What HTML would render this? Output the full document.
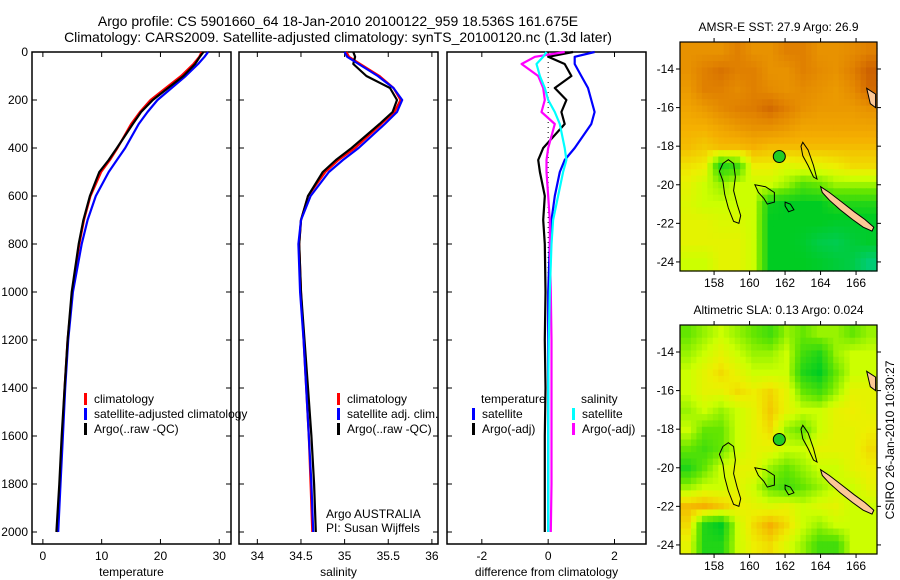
<!DOCTYPE html>
<html><head><meta charset="utf-8">
<style>
html,body{margin:0;padding:0;background:#fff;}
svg{display:block;font-family:"Liberation Sans",sans-serif;}
text{fill:#000;}
</style></head>
<body>
<svg id="fig" width="900" height="580" viewBox="0 0 900 580" xmlns="http://www.w3.org/2000/svg">
<text x="338" y="26" font-size="14" text-anchor="middle">Argo profile: CS 5901660_64 18-Jan-2010 20100122_959 18.536S 161.675E</text>
<text x="338" y="42" font-size="14" text-anchor="middle">Climatology: CARS2009. Satellite-adjusted climatology: synTS_20100120.nc (1.3d later)</text>
<g id="layer"></g>
</svg>
<script>
// ---------- data ----------
const depths      = [0,20,50,100,150,200,250,300,400,450,500,600,700,800,1000,1200,1400,1600,1800,2000];
const tempClim    = [27.0,26.6,25.6,23.5,20.9,18.3,16.5,15.0,12.7,11.4,9.9,8.1,7.0,6.2,5.0,4.2,3.7,3.3,2.9,2.4];
const tempSat     = [28.1,27.5,26.4,24.3,21.9,19.5,17.8,16.3,14.0,12.6,11.2,9.0,7.6,6.6,5.1,4.3,3.8,3.4,3.0,2.6];
const tempArgo    = [27.3,26.7,25.9,23.9,21.3,18.7,16.7,15.3,12.6,11.2,9.6,8.0,6.9,6.1,4.9,4.2,3.7,3.2,2.8,2.3];
const salClim     = [35.02,35.05,35.18,35.40,35.56,35.64,35.57,35.42,35.12,34.93,34.78,34.58,34.50,34.48,34.50,34.53,34.56,34.59,34.61,34.63];
const salSat      = [35.00,35.03,35.16,35.38,35.56,35.66,35.60,35.46,35.16,34.98,34.82,34.61,34.50,34.47,34.49,34.53,34.56,34.59,34.62,34.64];
const salArgo     = [35.10,35.12,35.10,35.25,35.52,35.60,35.55,35.40,35.08,34.90,34.75,34.58,34.50,34.48,34.50,34.54,34.58,34.62,34.65,34.67];
const dTempSat    = [1.4,0.8,0.8,1.0,1.2,1.3,1.4,1.3,0.8,0.5,0.35,0.2,0.1,0.05,0.0,0.0,0.0,0.0,0.0,0.0];
const dTempArgo   = [0.75,0.0,0.5,0.7,0.2,0.55,0.4,0.5,-0.15,-0.3,-0.25,-0.1,-0.15,-0.1,-0.08,-0.1,-0.08,-0.1,-0.1,-0.1];
const dSalArgo    = [0.5,-0.4,-0.8,-0.3,-0.15,-0.1,-0.2,0.2,0.0,-0.05,-0.05,0.0,0.05,0.05,0.08,0.1,0.1,0.1,0.1,0.08];
const dSalSat     = [-0.05,-0.15,-0.35,-0.25,-0.1,0.0,0.2,0.35,0.5,0.55,0.45,0.3,0.15,0.1,0.05,0.02,0.0,0.0,0.0,0.0];
const depthTicks  = [0,200,400,600,800,1000,1200,1400,1600,1800,2000];
const tempTicks   = [0,10,20,30];
const salTicks    = [34,34.5,35,35.5,36];
const diffTicks   = [-2,0,2];
const lonTicks    = [158,160,162,164,166];
const latTicks    = [-14,-16,-18,-20,-22,-24];
const sstGrid = [
[.8,.8,.8,.85,.8,.8,.85,.85,.8,.8,.82,.85],
[.8,.85,.88,.85,.85,.8,.8,.85,.82,.8,.85,.92],
[.78,.85,.85,.82,.85,.82,.8,.82,.8,.78,.82,.9],
[.75,.78,.82,.85,.86,.9,.85,.8,.78,.78,.78,.8],
[.72,.72,.75,.78,.8,.8,.78,.75,.75,.75,.75,.75],
[.7,.68,.7,.7,.72,.7,.7,.7,.7,.7,.7,.7],
[.64,.62,.35,.4,.62,.62,.58,.6,.6,.62,.65,.65],
[.6,.55,.5,.55,.55,.55,.5,.42,.45,.5,.5,.5],
[.58,.55,.55,.55,.55,.32,.3,.3,.3,.35,.35,.35],
[.6,.6,.58,.58,.55,.3,.3,.3,.3,.28,.28,.28],
[.6,.6,.6,.6,.55,.3,.3,.28,.22,.2,.25,.28],
[.55,.55,.6,.6,.55,.3,.3,.3,.28,.25,.22,.12]];
const slaGrid = [
[.45,.5,.55,.5,.45,.4,.5,.45,.5,.5,.45,.5],
[.5,.55,.6,.55,.5,.5,.55,.4,.35,.5,.55,.55],
[.55,.6,.65,.6,.55,.55,.55,.35,.3,.45,.55,.55],
[.55,.6,.6,.65,.62,.66,.6,.45,.4,.5,.6,.6],
[.5,.55,.5,.55,.6,.68,.6,.55,.55,.6,.62,.6],
[.55,.45,.45,.55,.6,.65,.5,.45,.55,.6,.6,.62],
[.45,.4,.45,.55,.6,.6,.55,.55,.6,.6,.6,.65],
[.35,.45,.55,.6,.6,.5,.45,.5,.55,.55,.6,.62],
[.5,.55,.55,.6,.55,.45,.4,.45,.5,.55,.55,.6],
[.7,.72,.68,.62,.6,.58,.6,.55,.58,.6,.55,.55],
[.65,.35,.3,.55,.65,.72,.65,.55,.5,.55,.55,.55],
[.6,.35,.35,.55,.62,.65,.58,.5,.4,.4,.55,.55]];
const argoLon = 161.675, argoLat = -18.536;
const reefA = [[158.8,-18.7],[159.1,-18.9],[159.2,-19.6],[159.1,-20.3],[159.3,-21.0],[159.5,-21.6],[159.4,-22.0],[159.1,-21.9],[158.8,-21.2],[158.6,-20.5],[158.5,-19.8],[158.3,-19.3],[158.5,-18.9],[158.8,-18.7]];
const reefB = [[160.3,-20.0],[160.9,-20.1],[161.4,-20.4],[161.4,-20.9],[161.0,-21.0],[160.8,-20.7],[160.5,-20.4],[160.3,-20.0]];
const reefC = [[163.0,-17.8],[163.3,-18.2],[163.6,-19.0],[163.8,-19.7],[163.6,-19.6],[163.3,-19.0],[163.0,-18.5],[162.9,-18.0],[163.0,-17.8]];
const reefD = [[162.0,-20.9],[162.3,-21.0],[162.5,-21.3],[162.2,-21.4],[162.0,-21.1],[162.0,-20.9]];
const newCal = [[164.0,-20.1],[164.5,-20.4],[165.2,-20.9],[165.9,-21.4],[166.5,-21.8],[167.0,-22.2],[166.9,-22.4],[166.4,-22.2],[165.8,-21.8],[165.1,-21.3],[164.5,-20.8],[164.1,-20.4],[164.0,-20.1]];
const vanuatuTip = [[166.6,-15.0],[167.1,-15.3],[167.1,-16.0],[166.8,-15.8],[166.6,-15.0]];

// ---------- helpers ----------
const NS="http://www.w3.org/2000/svg";
const layer=document.getElementById('layer');
function mk(tag,attrs,parent){const e=document.createElementNS(NS,tag);for(const k in attrs)e.setAttribute(k,attrs[k]);(parent||layer).appendChild(e);return e;}
function txt(s,x,y,size,anchor,parent){const t=mk('text',{x:x,y:y,'font-size':size,'text-anchor':anchor||'start'},parent);t.textContent=s;return t;}

const yTop=52, yBot=544;
function yDepth(d){return yTop + d*0.24;}

function panel(name,x0,x1,xmin,xmax,ticks,label,showDepth){
  const g=mk('g',{});
  
  
  const fx=v=>x0+(v-xmin)/(xmax-xmin)*(x1-x0);
  const fr=mk('rect',{x:x0,y:yTop,width:x1-x0,height:yBot-yTop,fill:'none',stroke:'#000','stroke-width':1.5},g);
  
  
  depthTicks.forEach(d=>{const y=yDepth(d);
    mk('line',{x1:x0,x2:x0+5,y1:y,y2:y,stroke:'#000'},g);
    mk('line',{x1:x1,x2:x1-5,y1:y,y2:y,stroke:'#000'},g);
    if(showDepth){const t=txt(String(d),x0-4,y+4,12,'end',g);
      
      }
  });
  ticks.forEach(v=>{const x=fx(v);
    mk('line',{x1:x,x2:x,y1:yBot,y2:yBot-5,stroke:'#000'},g);
    mk('line',{x1:x,x2:x,y1:yTop,y2:yTop+5,stroke:'#000'},g);
    const t=txt(String(v),x,560,12,'middle',g);
    
    
  });
  const xl=txt(label,(x0+x1)/2,576,12,'middle',g);
  
  
  return {g,fx};
}
function series(p,vals,color,name){
  const pts=vals.map((v,i)=>p.fx(v).toFixed(1)+','+yDepth(depths[i]).toFixed(1)).join(' ');
  const l=mk('polyline',{points:pts,fill:'none',stroke:color,'stroke-width':2.2,'stroke-linejoin':'round'},p.g);
  
  
}
function legend(g,x,y,color,label,name){
  const b=mk('rect',{x:x,y:y-10,width:3,height:12,fill:color},g);
  
  
  const t=txt(label,x+10,y,12,'start',g);
  
  
}

// Panel 1
const p1=panel('temperature-panel',32,231,-1.85,32.0,tempTicks,'temperature',true);
series(p1,tempClim,'#f00','temp-climatology-line');
series(p1,tempSat,'#00f','temp-satellite-line');
series(p1,tempArgo,'#000','temp-argo-line');
legend(p1.g,84,403,'#f00','climatology','legend-climatology');
legend(p1.g,84,418,'#00f','satellite-adjusted climatology','legend-satellite');
legend(p1.g,84,433,'#000','Argo(..raw -QC)','legend-argo');

// Panel 2
const p2=panel('salinity-panel',239,438,33.79,36.07,salTicks,'salinity',false);
series(p2,salClim,'#f00','sal-climatology-line');
series(p2,salArgo,'#000','sal-argo-line');
series(p2,salSat,'#00f','sal-satellite-line');
legend(p2.g,337,403,'#f00','climatology','legend-sal-climatology');
legend(p2.g,337,418,'#00f','satellite adj. clim.','legend-sal-satellite');
legend(p2.g,337,433,'#000','Argo(..raw -QC)','legend-sal-argo');
const a1=txt('Argo AUSTRALIA',326,518,12,'start',p2.g);


const a2=txt('PI: Susan Wijffels',326,532,12,'start',p2.g);



// Panel 3
const p3=panel('difference-panel',447,646,-3.05,2.95,diffTicks,'difference from climatology',false);
const zl=mk('line',{x1:p3.fx(0),x2:p3.fx(0),y1:yTop,y2:yDepth(2000),stroke:'#000','stroke-dasharray':'1,4'},p3.g);


series(p3,dTempSat,'#00f','diff-temp-satellite-line');
series(p3,dTempArgo,'#000','diff-temp-argo-line');
series(p3,dSalArgo,'#f0f','diff-sal-argo-line');
series(p3,dSalSat,'#0ff','diff-sal-satellite-line');
const lt=txt('temperature',481,403,12,'start',p3.g);


const ls=txt('salinity',581,403,12,'start',p3.g);


legend(p3.g,472,418,'#00f','satellite','legend-dtemp-satellite');
legend(p3.g,472,433,'#000','Argo(-adj)','legend-dtemp-argo');
legend(p3.g,572,418,'#0ff','satellite','legend-dsal-satellite');
legend(p3.g,572,433,'#f0f','Argo(-adj)','legend-dsal-argo');

// ---------- maps ----------
const cstops=[[0,[0,204,170]],[0.3,[0,204,34]],[0.45,[100,230,0]],[0.55,[204,255,0]],[0.62,[238,238,0]],[0.72,[245,176,0]],[0.85,[224,128,0]],[1,[184,64,0]]];
function cmap(v){for(let i=1;i<cstops.length;i++){if(v<=cstops[i][0]){const a=cstops[i-1],b=cstops[i];const t=(v-a[0])/(b[0]-a[0]);
  const c=a[1].map((q,k)=>Math.round(q+(b[1][k]-q)*t));return 'rgb('+c.join(',')+')';}}return 'rgb(184,64,0)';}
function sample(grid,fr,fc){ // bilinear sample for display smoothing
  const R=grid.length-1,C=grid[0].length-1;
  fr=Math.max(0,Math.min(R,fr));fc=Math.max(0,Math.min(C,fc));
  const r0=Math.floor(fr),c0=Math.floor(fc),r1=Math.min(R,r0+1),c1=Math.min(C,c0+1);
  const tr=fr-r0,tc=fc-c0;
  const a=grid[r0][c0]*(1-tc)+grid[r0][c1]*tc, b=grid[r1][c0]*(1-tc)+grid[r1][c1]*tc;
  return a*(1-tr)+b*tr;
}
const lonMin=156.08, lonMax=167.18, latMax=-12.6, latMin=-24.47;
function mapPanel(name,y0,grid,title){
  const x0=680,x1=877,y1=y0+229;
  const g=mk('g',{});
  
  
  const fx=lon=>x0+(lon-lonMin)/(lonMax-lonMin)*(x1-x0);
  const fy=lat=>y0+(latMax-lat)/(latMax-latMin)*(y1-y0);
  const rows=grid.length, cols=grid[0].length, S=3;
  const cw=(x1-x0)/(cols*S), ch=(y1-y0)/(rows*S);
  for(let r=0;r<rows*S;r++)for(let c=0;c<cols*S;c++){
    const v=sample(grid,(r+0.5)/S-0.5,(c+0.5)/S-0.5);
    const cell=mk('rect',{x:(x0+c*cw).toFixed(2),y:(y0+r*ch).toFixed(2),width:(cw+0.6).toFixed(2),height:(ch+0.6).toFixed(2),fill:cmap(v)},g);
    
    
  }
  const poly=(pts,fill,nm)=>{const p=mk('polygon',{points:pts.map(q=>fx(q[0]).toFixed(1)+','+fy(q[1]).toFixed(1)).join(' '),fill:fill,stroke:'#000','stroke-width':1},g);
    };
  poly(reefA,'none','chesterfield-reef-outline');
  poly(reefB,'none','bellona-reef-outline');
  poly(reefC,'none','entrecasteaux-reef-outline');
  poly(reefD,'none','small-reef-outline');
  poly(newCal,'#fcc896','new-caledonia-land');
  poly(vanuatuTip,'#fcc896','vanuatu-land');
  const dot=mk('circle',{cx:fx(argoLon),cy:fy(argoLat),r:6,fill:'#22cc22',stroke:'#000','stroke-width':1},g);
  
  
  const fr=mk('rect',{x:x0,y:y0,width:x1-x0,height:y1-y0,fill:'none',stroke:'#000','stroke-width':1.2},g);
  
  
  latTicks.forEach(l=>{const y=fy(l);
    mk('line',{x1:x0-4,x2:x0,y1:y,y2:y,stroke:'#000'},g);
    mk('line',{x1:x1,x2:x1+4,y1:y,y2:y,stroke:'#000'},g);
    const t=txt(String(l),x0-6,y+4,12,'end',g);
    
    });
  lonTicks.forEach(l=>{const x=fx(l);
    mk('line',{x1:x,x2:x,y1:y1,y2:y1+4,stroke:'#000'},g);
    mk('line',{x1:x,x2:x,y1:y0,y2:y0-4,stroke:'#000'},g);
    const t=txt(String(l),x,y1+16,12,'middle',g);
    
    });
  const tt=txt(title,(x0+x1)/2,y0-11,12,'middle',g);
  
  
}
mapPanel('sst-map',42,sstGrid,'AMSR-E SST: 27.9 Argo: 26.9');
mapPanel('sla-map',325,slaGrid,'Altimetric SLA: 0.13 Argo: 0.024');
const stamp=txt('CSIRO 26-Jan-2010 10:30:27',0,0,12,'middle');
stamp.setAttribute('transform','translate(894,440) rotate(-90)');


</script>
</body></html>
